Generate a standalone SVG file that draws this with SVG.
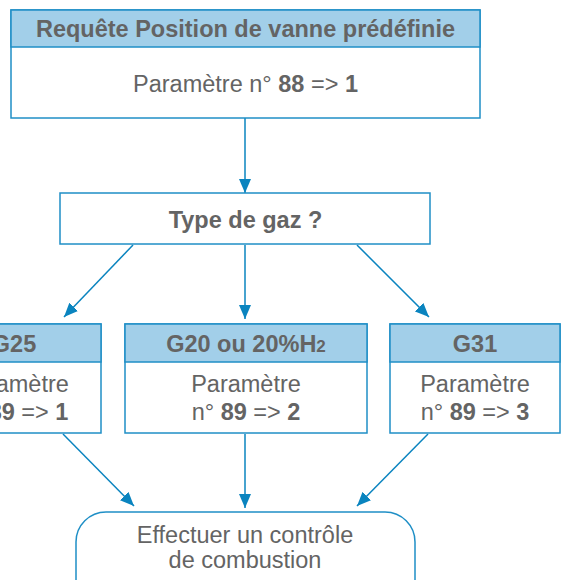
<svg xmlns="http://www.w3.org/2000/svg" width="561" height="580" viewBox="0 0 561 580">
<style>
text{font-family:"Liberation Sans",Arial,sans-serif;fill:#646464;font-size:23.5px;text-anchor:middle}
.b{font-weight:bold}
.box{fill:#fff;stroke:#1f8fc6;stroke-width:1.5}
.hd{fill:#a2cfe9;stroke:#1f8fc6;stroke-width:1.5}
.c{stroke:#0a84bf;stroke-width:1.5;fill:none;marker-end:url(#ah)}
</style>
<defs>
<marker id="ah" viewBox="0 0 14 12" refX="14" refY="6" markerWidth="14" markerHeight="12" markerUnits="userSpaceOnUse" orient="auto">
<path d="M0,0L14,6L0,12z" fill="#0a84bf"/>
</marker>
</defs>
<g id="connectors">
<path class="c" d="M245,118V193"/>
<path class="c" d="M133,245L64,317"/>
<path class="c" d="M245,245V319"/>
<path class="c" d="M357,245L429,317"/>
<path class="c" d="M63,434L134,506"/>
<path class="c" d="M245,434V508"/>
<path class="c" d="M428,434L357,506"/>
</g>
<g id="n1">
<rect class="box" x="11" y="10" width="469" height="108"/>
<rect class="hd" x="11" y="10" width="469" height="37"/>
<text class="b" x="245.5" y="37">Requête Position de vanne prédéfinie</text>
<text x="245.5" y="92">Paramètre n° <tspan class="b">88</tspan> =&gt; <tspan class="b">1</tspan></text>
</g>
<g id="n2">
<rect class="box" x="60" y="193" width="370" height="51"/>
<text class="b" x="245.5" y="228">Type de gaz ?</text>
</g>
<g id="n3">
<rect class="box" x="-69" y="324" width="170" height="109"/>
<rect class="hd" x="-69" y="324" width="170" height="38"/>
<text class="b" x="14" y="352">G25</text>
<text x="14" y="392">Paramètre</text>
<text x="14" y="420">n° <tspan class="b">89</tspan> =&gt; <tspan class="b">1</tspan></text>
</g>
<g id="n4">
<rect class="box" x="125" y="324" width="242" height="109"/>
<rect class="hd" x="125" y="324" width="242" height="38"/>
<text class="b" x="246" y="352">G20 ou 20%H<tspan font-size="17">2</tspan></text>
<text x="246" y="392">Paramètre</text>
<text x="246" y="420">n° <tspan class="b">89</tspan> =&gt; <tspan class="b">2</tspan></text>
</g>
<g id="n5">
<rect class="box" x="390" y="324" width="170" height="109"/>
<rect class="hd" x="390" y="324" width="170" height="38"/>
<text class="b" x="475" y="352">G31</text>
<text x="475" y="392">Paramètre</text>
<text x="475" y="420">n° <tspan class="b">89</tspan> =&gt; <tspan class="b">3</tspan></text>
</g>
<g id="n6">
<rect class="box" x="76" y="512" width="339" height="100" rx="30" ry="30"/>
<text x="245" y="543">Effectuer un contrôle</text>
<text x="245" y="568">de combustion</text>
</g>
</svg>
